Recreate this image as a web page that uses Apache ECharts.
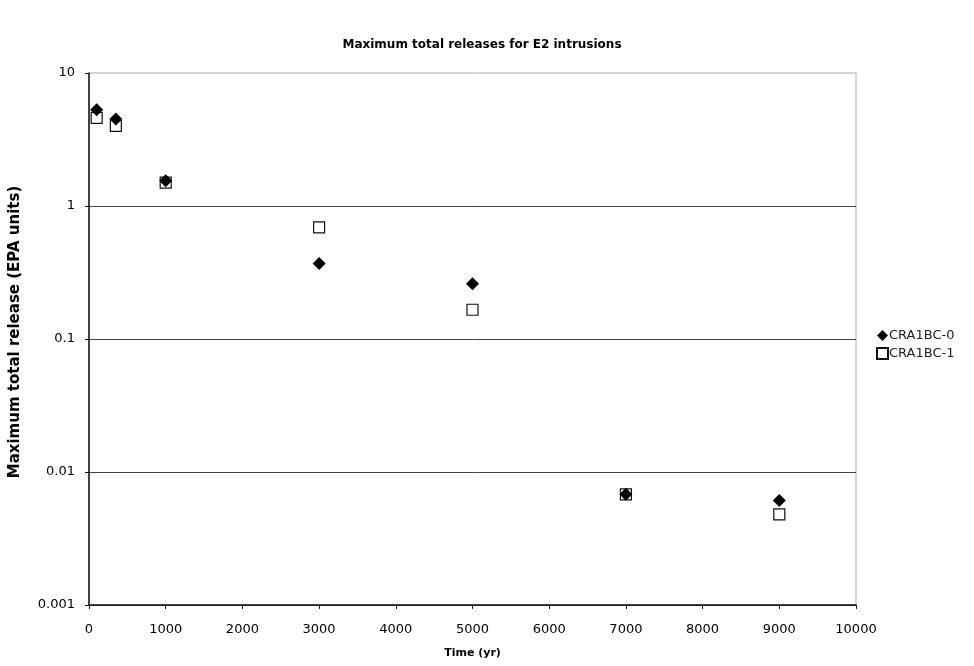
<!DOCTYPE html>
<html>
<head>
<meta charset="utf-8">
<script src="https://cdn.jsdelivr.net/npm/echarts@6/dist/echarts.min.js"></script>
<style>
  html, body { margin: 0; padding: 0; background: #fff; }
  #chart { width: 974px; height: 666px; }
</style>
</head>
<body>
<div id="chart"></div>
<script>
var years = [100, 350, 1000, 3000, 5000, 7000, 9000];
var cra0 = [5.3, 4.5, 1.55, 0.37, 0.26, 0.0068, 0.0061];
var cra1 = [4.6, 4.0, 1.5, 0.69, 0.166, 0.0068, 0.0048];
var yTicks = ['0.001', '0.01', '0.1', '1', '10'];

function pairs(xs, ys) {
    var out = [];
    for (var i = 0; i < xs.length; i++) out.push([xs[i], ys[i]]);
    return out;
}

var chart = echarts.init(document.getElementById('chart'));
var font = 'DejaVu Sans, Verdana, sans-serif';

var option = {
    backgroundColor: '#fff',
    animation: false,
    title: {
        text: 'Maximum total releases for E2 intrusions',
        left: 477,
        top: 34,
        textAlign: 'center',
        textStyle: { fontFamily: font, fontSize: 12, fontWeight: 'bold', color: '#000' }
    },
    grid: { left: 89, right: 118, top: 73, bottom: 61, show: true, borderColor: '#aaa', borderWidth: 1, backgroundColor: 'transparent' },
    legend: {
        orient: 'vertical',
        left: 871,
        top: 324,
        itemWidth: 11,
        itemHeight: 11,
        itemGap: 5,
        textStyle: { fontFamily: font, fontSize: 13, color: '#222', padding: [0, 0, 0, -4] },
        data: [
            { name: 'CRA1BC-0', icon: 'diamond' },
            { name: 'CRA1BC-1', icon: 'rect' }
        ]
    },
    xAxis: {
        type: 'value',
        min: 0,
        max: 10000,
        interval: 1000,
        name: 'Time (yr)',
        nameLocation: 'middle',
        nameGap: 43,
        nameTextStyle: { fontFamily: font, fontSize: 11, fontWeight: 'bold', color: '#000' },
        axisLine: { lineStyle: { color: '#111', width: 1.5 } },
        axisTick: { show: true, length: 4, lineStyle: { color: '#111' } },
        axisLabel: {
            fontFamily: font, fontSize: 13, color: '#000', margin: 18,
            formatter: function (v) { return String(v); }
        },
        splitLine: { show: false }
    },
    yAxis: {
        type: 'log',
        logBase: 10,
        min: 0.001,
        max: 10,
        name: 'Maximum total release (EPA units)',
        nameLocation: 'middle',
        nameGap: 66,
        nameTextStyle: { fontFamily: font, fontSize: 15, fontWeight: 'bold', color: '#000', padding: [0, 0, 0, 14] },
        axisLine: { show: true, lineStyle: { color: '#111', width: 1.5 } },
        axisTick: { show: true, length: 4, lineStyle: { color: '#111' } },
        axisLabel: {
            fontFamily: font, fontSize: 13, color: '#000', margin: 14,
            formatter: function (v) {
                var k = Math.round(Math.log10(v)) + 3;
                return yTicks[k] !== undefined ? yTicks[k] : '';
            }
        },
        splitLine: { show: true, showMaxLine: false, lineStyle: { color: '#444', width: 1 } }
    },
    series: [
        {
            name: 'CRA1BC-1',
            type: 'scatter',
            symbol: 'rect',
            symbolSize: 11,
            z: 2,
            itemStyle: { color: '#fff', borderColor: '#111', borderWidth: 1.2, opacity: 1 },
            data: pairs(years, cra1)
        },
        {
            name: 'CRA1BC-0',
            type: 'scatter',
            symbol: 'diamond',
            symbolSize: 13,
            z: 3,
            itemStyle: { color: '#000', opacity: 1 },
            data: pairs(years, cra0)
        }
    ]
};

chart.setOption(option);
window.onresize = chart.resize;
</script>
</body>
</html>
